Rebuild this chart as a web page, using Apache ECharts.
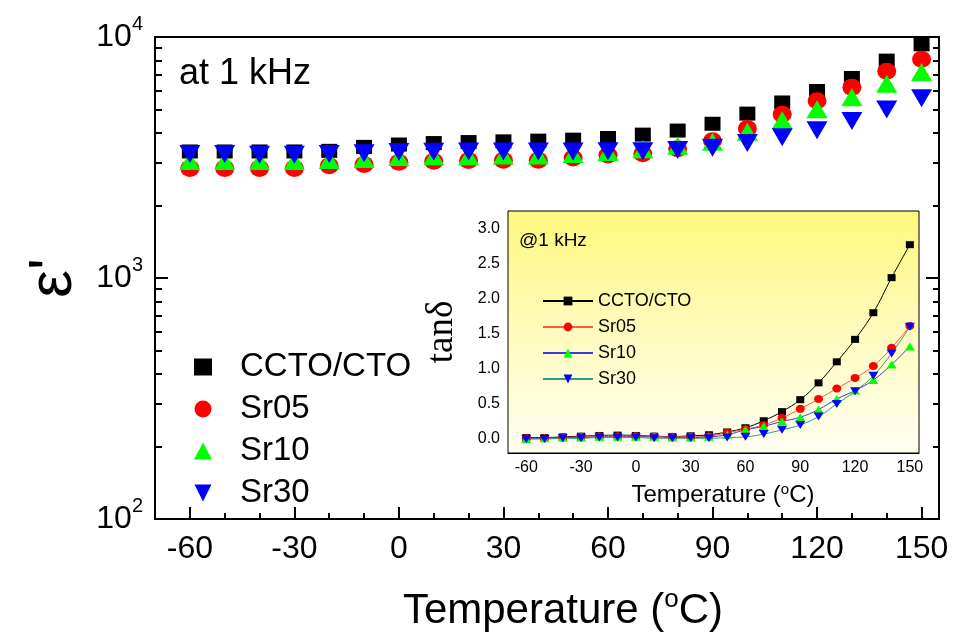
<!DOCTYPE html>
<html>
<head>
<meta charset="utf-8">
<script src="https://cdn.jsdelivr.net/npm/echarts@6/dist/echarts.min.js"></script>
<style>
  html, body { margin: 0; padding: 0; background: #fff; }
  #chart { width: 958px; height: 637px; }
</style>
</head>
<body>
<div id="chart"></div>
<script>
// temperatures (°C)
const temps = [-60, -50, -40, -30, -20, -10, 0, 10, 20, 30, 40, 50, 60, 70, 80, 90, 100, 110, 120, 130, 140, 150];
const names = ['CCTO/CTO', 'Sr05', 'Sr10', 'Sr30'];

// ε' at 1 kHz (main plot)
const epsCCTO = [3350, 3350, 3350, 3350, 3370, 3500, 3580, 3630, 3665, 3690, 3715, 3750, 3810, 3935, 4090, 4365, 4810, 5350, 5970, 6760, 7980, 9320];
const epsSr05 = [2850, 2850, 2850, 2850, 2920, 2960, 3020, 3050, 3070, 3080, 3080, 3150, 3240, 3280, 3440, 3707, 4170, 4780, 5440, 6180, 7210, 8090];
const epsSr10 = [3060, 3060, 3060, 3060, 3090, 3115, 3180, 3200, 3200, 3220, 3220, 3270, 3330, 3425, 3540, 3680, 4045, 4510, 5010, 5620, 6400, 7160];
const epsSr30 = [3270, 3270, 3250, 3245, 3270, 3290, 3330, 3340, 3345, 3350, 3350, 3350, 3355, 3360, 3395, 3470, 3630, 3840, 4100, 4480, 5000, 5570];

// tanδ at 1 kHz (inset)
const tanCCTO = [0.02, 0.02, 0.03, 0.04, 0.05, 0.055, 0.05, 0.04, 0.035, 0.045, 0.06, 0.10, 0.16, 0.26, 0.39, 0.56, 0.80, 1.10, 1.42, 1.80, 2.30, 2.77];
const tanSr05 = [0.01, 0.01, 0.02, 0.03, 0.04, 0.04, 0.04, 0.035, 0.03, 0.03, 0.04, 0.09, 0.14, 0.20, 0.30, 0.43, 0.57, 0.72, 0.87, 1.04, 1.30, 1.61];
const tanSr10 = [0.00, 0.01, 0.02, 0.02, 0.03, 0.03, 0.03, 0.03, 0.02, 0.02, 0.03, 0.06, 0.13, 0.18, 0.25, 0.31, 0.42, 0.57, 0.69, 0.84, 1.06, 1.32];
const tanSr30 = [0.00, 0.00, 0.01, 0.01, 0.02, 0.02, 0.02, 0.01, 0.01, 0.01, 0.01, 0.02, 0.03, 0.07, 0.13, 0.20, 0.32, 0.50, 0.68, 0.90, 1.22, 1.60];

// tick positions
const xMajor = [-60, -30, 0, 30, 60, 90, 120, 150];
const xMinor = [-50, -40, -20, -10, 10, 20, 40, 50, 70, 80, 100, 110, 130, 140];
const xAll = [-60, -50, -40, -30, -20, -10, 0, 10, 20, 30, 40, 50, 60, 70, 80, 90, 100, 110, 120, 130, 140, 150];
const epsMajor = [100, 1000, 10000];
const epsMinor = [200, 300, 400, 500, 600, 700, 800, 900, 2000, 3000, 4000, 5000, 6000, 7000, 8000, 9000];
const tanMajor = [0, 0.5, 1, 1.5, 2, 2.5, 3];
const tanMinor = [0.25, 0.75, 1.25, 1.75, 2.25, 2.75];
const tanAll = [0, 0.25, 0.5, 0.75, 1, 1.25, 1.5, 1.75, 2, 2.25, 2.5, 2.75, 3];

const FONT = 'Liberation Sans, Arial, sans-serif';
const invTri = 'path://M0,0L2,0L1,2Z';

function pairs(ys) {
  return temps.map(function (t, i) { return [t, ys[i]]; });
}

function tickAxis(grid, type, pos, min, max, ticks, len, width, extra) {
  const ax = {
    gridIndex: grid, type: type, position: pos, min: min, max: max,
    axisLine: { show: false, onZero: false },
    axisTick: { show: true, inside: true, length: len, customValues: ticks, lineStyle: { color: '#000', width: width } },
    axisLabel: { show: false },
    splitLine: { show: false }
  };
  return Object.assign(ax, extra || {});
}

const chart = echarts.init(document.getElementById('chart'), null, { renderer: 'canvas' });

const option = {
  backgroundColor: '#fff',
  animation: false,
  textStyle: { fontFamily: FONT },
  grid: [
    { left: 155, right: 19, top: 37, bottom: 110, show: true, borderColor: '#000', borderWidth: 2, backgroundColor: 'transparent' },
    {
      left: 508, right: 39, top: 211, bottom: 184, show: true, borderColor: '#000', borderWidth: 1, z: 3,
      backgroundColor: {
        type: 'linear', x: 0, y: 0, x2: 0, y2: 1,
        colorStops: [
          { offset: 0, color: '#fff87c' },
          { offset: 0.5, color: '#fffbbe' },
          { offset: 1, color: '#fffff2' }
        ]
      }
    }
  ],
  xAxis: [
    tickAxis(0, 'value', 'bottom', -70, 155, xMajor, 12, 2, {
      axisLine: { show: true, onZero: false, lineStyle: { color: '#000', width: 2 } },
      axisLabel: { show: true, customValues: xMajor, fontSize: 32, color: '#000', margin: 14, fontFamily: FONT },
      name: 'Temperature ({s|o}C)',
      nameLocation: 'middle',
      nameGap: 68,
      nameTextStyle: {
        fontSize: 42, color: '#000', fontFamily: FONT, padding: [0, 0, 0, 32],
        rich: { s: { fontSize: 26, color: '#000', fontFamily: FONT, padding: [0, 0, 22, 0] } }
      }
    }),
    tickAxis(0, 'value', 'bottom', -70, 155, xMinor, 6, 2),
    tickAxis(1, 'value', 'bottom', -70, 155, xMajor, 5, 1, {
      axisLine: { show: true, onZero: false, lineStyle: { color: '#000', width: 1 } },
      axisLabel: { show: true, customValues: xMajor, fontSize: 16, color: '#000', margin: 7, fontFamily: FONT },
      name: 'Temperature ({s|o}C)',
      nameLocation: 'middle',
      nameGap: 29,
      nameTextStyle: {
        fontSize: 24, color: '#000', fontFamily: FONT, padding: [0, 0, 0, 19],
        rich: { s: { fontSize: 15, color: '#000', fontFamily: FONT, padding: [0, 0, 12, 0] } }
      }
    }),
    tickAxis(1, 'value', 'bottom', -70, 155, xMinor, 3, 1),
    tickAxis(1, 'value', 'top', -70, 155, xAll, 3, 1)
  ],
  yAxis: [
    tickAxis(0, 'log', 'left', 100, 10000, epsMajor, 13, 2, {
      logBase: 10,
      axisLine: { show: true, onZero: false, lineStyle: { color: '#000', width: 2 } },
      axisLabel: {
        show: true, customValues: epsMajor, margin: 12, color: '#000',
        formatter: function (v) { return '{b|10}{s|' + Math.round(Math.log10(v)) + '}'; },
        rich: {
          b: { fontSize: 32, color: '#000', fontFamily: FONT },
          s: { fontSize: 20, color: '#000', fontFamily: FONT, padding: [0, 0, 26, 0] }
        }
      },
      name: "ε'",
      nameLocation: 'middle',
      nameGap: 70,
      nameTextStyle: { fontSize: 62, color: '#000', fontFamily: FONT }
    }),
    tickAxis(0, 'log', 'left', 100, 10000, epsMinor, 7, 2, { logBase: 10 }),
    tickAxis(0, 'log', 'right', 100, 10000, epsMajor, 13, 2, { logBase: 10 }),
    tickAxis(0, 'log', 'right', 100, 10000, epsMinor, 6, 2, { logBase: 10 }),
    tickAxis(1, 'value', 'left', -0.2, 3.25, tanMajor, 5, 1, {
      axisLine: { show: true, onZero: false, lineStyle: { color: '#000', width: 1 } },
      axisLabel: {
        show: true, customValues: tanMajor, fontSize: 16, color: '#000', margin: 8, fontFamily: FONT,
        formatter: function (v) { return v.toFixed(1); }
      },
      name: 'tanδ',
      nameLocation: 'middle',
      nameGap: 47,
      nameTextStyle: { fontSize: 37, color: '#000', fontFamily: 'Liberation Serif, Times New Roman, serif' }
    }),
    tickAxis(1, 'value', 'left', -0.2, 3.25, tanMinor, 3, 1),
    tickAxis(1, 'value', 'right', -0.2, 3.25, tanAll, 3, 1)
  ],
  legend: [
    {
      data: names, orient: 'vertical', left: 189, top: 345,
      itemWidth: 18, itemHeight: 17, itemGap: 8, selectedMode: false,
      textStyle: { fontSize: 33, lineHeight: 34, color: '#000', fontFamily: FONT, padding: [0, 0, 0, 23] }
    },
    {
      data: names.map(function (n) { return 'tan ' + n; }),
      formatter: function (n) { return n.slice(4); },
      orient: 'vertical', left: 537, top: 287, z: 10,
      itemWidth: 50, itemHeight: 11, itemGap: 8, selectedMode: false,
      textStyle: { fontSize: 18, lineHeight: 18, color: '#000', fontFamily: FONT }
    }
  ],
  graphic: [
    { type: 'text', left: 179, top: 56, style: { text: 'at 1 kHz', fontSize: 36, fill: '#000', fontFamily: FONT } },
    { type: 'text', left: 519, top: 231, z: 10, style: { text: '@1 kHz', fontSize: 19, fill: '#000', fontFamily: FONT } }
  ],
  series: [
    { name: names[0], type: 'scatter', xAxisIndex: 0, yAxisIndex: 0, symbol: 'rect', symbolSize: [16, 14], itemStyle: { color: '#000', opacity: 1 }, data: pairs(epsCCTO) },
    { name: names[1], type: 'scatter', xAxisIndex: 0, yAxisIndex: 0, symbol: 'circle', symbolSize: [19, 17], itemStyle: { color: '#ff0000', opacity: 1 }, data: pairs(epsSr05) },
    { name: names[2], type: 'scatter', xAxisIndex: 0, yAxisIndex: 0, symbol: 'triangle', symbolSize: [21, 18], itemStyle: { color: '#00ff00', opacity: 1 }, data: pairs(epsSr10) },
    { name: names[3], type: 'scatter', xAxisIndex: 0, yAxisIndex: 0, symbol: invTri, symbolSize: [21, 18], itemStyle: { color: '#0000ff', opacity: 1 }, data: pairs(epsSr30) },

    { name: 'tan ' + names[0], type: 'line', xAxisIndex: 2, yAxisIndex: 4, z: 5, smooth: 0.4, symbol: 'rect', symbolSize: [8, 7], showAllSymbol: true,
      lineStyle: { color: '#000', width: 1 }, itemStyle: { color: '#000' }, data: pairs(tanCCTO) },
    { name: 'tan ' + names[1], type: 'line', xAxisIndex: 2, yAxisIndex: 4, z: 5, smooth: 0.4, symbol: 'circle', symbolSize: [9, 8], showAllSymbol: true,
      lineStyle: { color: '#ff5a3c', width: 1 }, itemStyle: { color: '#ff0000' }, data: pairs(tanSr05) },
    { name: 'tan ' + names[2], type: 'line', xAxisIndex: 2, yAxisIndex: 4, z: 5, smooth: 0.4, symbol: 'triangle', symbolSize: [10, 8], showAllSymbol: true,
      lineStyle: { color: '#3a3ae0', width: 1 }, itemStyle: { color: '#00ff00' }, data: pairs(tanSr10) },
    { name: 'tan ' + names[3], type: 'line', xAxisIndex: 2, yAxisIndex: 4, z: 5, smooth: 0.4, symbol: invTri, symbolSize: [10, 8], showAllSymbol: true,
      lineStyle: { color: '#2e9a8c', width: 1 }, itemStyle: { color: '#0000ff' }, data: pairs(tanSr30) }
  ]
};

chart.setOption(option);
</script>
</body>
</html>
